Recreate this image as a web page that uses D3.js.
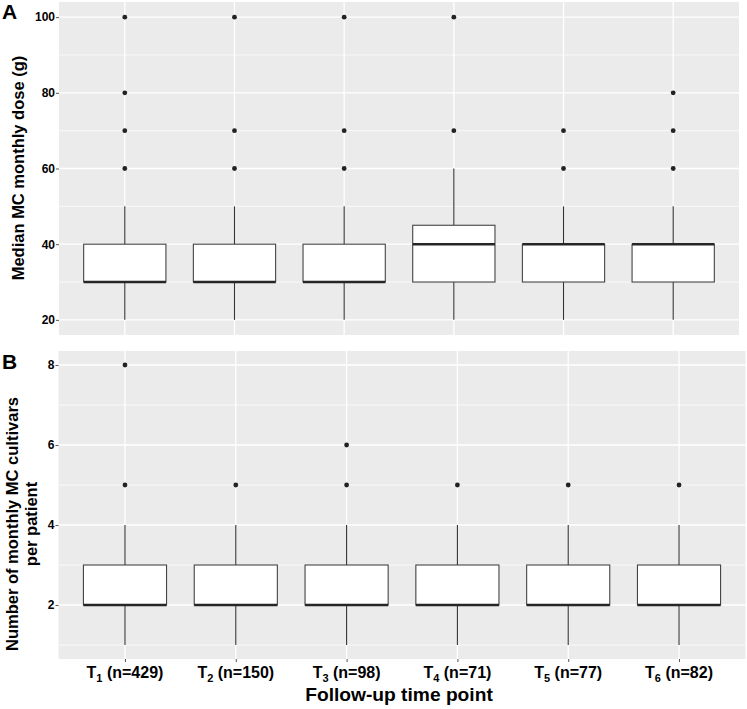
<!DOCTYPE html>
<html>
<head>
<meta charset="utf-8">
<script src="https://cdn.jsdelivr.net/npm/d3@7"></script>
<style>
    body { margin: 0; background: #fff; }
    svg text { font-family: "Liberation Sans", Arial, sans-serif; font-weight: bold; fill: #000; }
</style>
</head>
<body>
<div id="chart"></div>
<script>
// categories
var timePoints = ['1', '2', '3', '4', '5', '6'];
var sampleSizes = [429, 150, 98, 71, 77, 82];

// panel A - median MC monthly dose (g)
var doseLow = [20, 20, 20, 20, 20, 20];
var doseQ1 = [30, 30, 30, 30, 30, 30];
var doseMedian = [30, 30, 30, 40, 40, 40];
var doseQ3 = [40, 40, 40, 45, 40, 40];
var doseHigh = [50, 50, 50, 60, 50, 50];
var doseOutliers = [[60, 70, 80, 100], [60, 70, 100], [60, 70, 100], [70, 100], [60, 70], [60, 70, 80]];
var doseTicks = [20, 40, 60, 80, 100];
var doseMinor = [30, 50, 70, 90];

// panel B - number of monthly MC cultivars per patient
var cultLow = [1, 1, 1, 1, 1, 1];
var cultQ1 = [2, 2, 2, 2, 2, 2];
var cultMedian = [2, 2, 2, 2, 2, 2];
var cultQ3 = [3, 3, 3, 3, 3, 3];
var cultHigh = [4, 4, 4, 4, 4, 4];
var cultOutliers = [[5, 8], [5], [5, 6], [5], [5], [5]];
var cultTicks = [2, 4, 6, 8];
var cultMinor = [1, 3, 5, 7];

var width = 747, height = 709;
var svg = d3.select('#chart').append('svg')
    .attr('width', width)
    .attr('height', height);

function buildStats(low, q1, med, q3, high, outliers) {
    return timePoints.map(function (t, i) {
        return {key: t, low: low[i], q1: q1[i], med: med[i], q3: q3[i], high: high[i], out: outliers[i]};
    });
}

function drawPanel(cfg) {
    var x = d3.scalePoint().domain(timePoints).range([cfg.left, cfg.right]).padding(0.6);
    var y = d3.scaleLinear().domain(cfg.domain).range([cfg.bottom, cfg.top]);
    var boxW = x.step() * 0.75;
    var g = svg.append('g');

    g.append('rect')
        .attr('x', cfg.left).attr('y', cfg.top)
        .attr('width', cfg.right - cfg.left).attr('height', cfg.bottom - cfg.top)
        .attr('fill', '#ebebeb');

    g.selectAll('.minor').data(cfg.minor).enter().append('line')
        .attr('x1', cfg.left).attr('x2', cfg.right)
        .attr('y1', y).attr('y2', y)
        .attr('stroke', '#fff').attr('stroke-width', 0.7);
    g.selectAll('.major').data(cfg.ticks).enter().append('line')
        .attr('x1', cfg.left).attr('x2', cfg.right)
        .attr('y1', y).attr('y2', y)
        .attr('stroke', '#fff').attr('stroke-width', 1.3);
    g.selectAll('.vgrid').data(timePoints).enter().append('line')
        .attr('x1', x).attr('x2', x)
        .attr('y1', cfg.top).attr('y2', cfg.bottom)
        .attr('stroke', '#fff').attr('stroke-width', 1.3);

    var yAxis = d3.axisLeft(y).tickValues(cfg.ticks).tickSize(3).tickPadding(1);
    var yg = g.append('g').attr('transform', 'translate(' + cfg.left + ',0)').call(yAxis);
    yg.select('.domain').remove();
    yg.selectAll('line').attr('stroke', '#555');
    yg.selectAll('text').style('font-size', '12px').attr('fill', '#111');

    var boxes = g.selectAll('.box').data(cfg.stats).enter().append('g');
    boxes.append('line')
        .attr('x1', function (d) { return x(d.key); }).attr('x2', function (d) { return x(d.key); })
        .attr('y1', function (d) { return y(d.high); }).attr('y2', function (d) { return y(d.q3); })
        .attr('stroke', '#333').attr('stroke-width', 1.1);
    boxes.append('line')
        .attr('x1', function (d) { return x(d.key); }).attr('x2', function (d) { return x(d.key); })
        .attr('y1', function (d) { return y(d.q1); }).attr('y2', function (d) { return y(d.low); })
        .attr('stroke', '#333').attr('stroke-width', 1.1);
    boxes.append('rect')
        .attr('x', function (d) { return x(d.key) - boxW / 2; })
        .attr('y', function (d) { return y(d.q3); })
        .attr('width', boxW)
        .attr('height', function (d) { return y(d.q1) - y(d.q3); })
        .attr('fill', '#fff').attr('stroke', '#444').attr('stroke-width', 1.1);
    boxes.append('line')
        .attr('x1', function (d) { return x(d.key) - boxW / 2; })
        .attr('x2', function (d) { return x(d.key) + boxW / 2; })
        .attr('y1', function (d) { return y(d.med); }).attr('y2', function (d) { return y(d.med); })
        .attr('stroke', '#262626').attr('stroke-width', 2.6);
    boxes.selectAll('circle')
        .data(function (d) { return d.out.map(function (v) { return {key: d.key, v: v}; }); })
        .enter().append('circle')
        .attr('cx', function (d) { return x(d.key); })
        .attr('cy', function (d) { return y(d.v); })
        .attr('r', 2.4)
        .attr('fill', '#222');

    // panel letter
    svg.append('text')
        .attr('x', 2).attr('y', cfg.letterY)
        .style('font-size', '21px')
        .text(cfg.letter);

    // y title
    var yt = svg.append('text')
        .attr('transform', 'translate(' + cfg.titleX + ',' + cfg.titleY + ') rotate(-90)')
        .attr('text-anchor', 'middle')
        .style('font-size', '16.5px');
    cfg.title.forEach(function (line, i) {
        yt.append('tspan').attr('x', 0).attr('dy', i === 0 ? 0 : 18.5).text(line);
    });

    return x;
}

drawPanel({
    left: 59, right: 739, top: 2, bottom: 335,
    domain: [16, 104],
    ticks: doseTicks, minor: doseMinor,
    stats: buildStats(doseLow, doseQ1, doseMedian, doseQ3, doseHigh, doseOutliers),
    letter: 'A', letterY: 19,
    title: ['Median MC monthly dose (g)'], titleX: 24, titleY: 168
});

var xB = drawPanel({
    left: 58.5, right: 745.5, top: 351, bottom: 659,
    domain: [0.65, 8.35],
    ticks: cultTicks, minor: cultMinor,
    stats: buildStats(cultLow, cultQ1, cultMedian, cultQ3, cultHigh, cultOutliers),
    letter: 'B', letterY: 369,
    title: ['Number of monthly MC cultivars', 'per patient'], titleX: 18, titleY: 524
});

// x axis for panel B
var xAxis = d3.axisBottom(xB).tickSize(3).tickFormat('');
var xg = svg.append('g').attr('transform', 'translate(0,659)').call(xAxis);
xg.select('.domain').remove();
xg.selectAll('line').attr('stroke', '#555');

var labels = svg.selectAll('.xlab').data(timePoints).enter().append('text')
    .attr('x', function (d) { return xB(d); })
    .attr('y', 678)
    .attr('text-anchor', 'middle')
    .style('font-size', '16px');
labels.append('tspan').text('T');
labels.append('tspan').attr('dy', 3.5).style('font-size', '11px').text(function (d) { return d; });
labels.append('tspan').attr('dy', -3.5).text(function (d, i) { return ' (n=' + sampleSizes[i] + ')'; });

svg.append('text')
    .attr('x', 399).attr('y', 701)
    .attr('text-anchor', 'middle')
    .style('font-size', '19.2px')
    .text('Follow-up time point');
</script>
</body>
</html>
